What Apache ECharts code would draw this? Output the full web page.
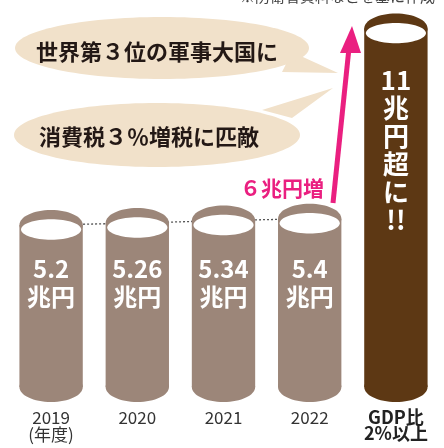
<!DOCTYPE html>
<html><head><meta charset="utf-8">
<script src="https://cdn.jsdelivr.net/npm/echarts@6/dist/echarts.min.js"></script>
<style>html,body{margin:0;padding:0;background:#fff;}#c{width:444px;height:448px;}</style>
</head><body><div id="c"></div>
<script>
var categories = ['2019\n(年度)', '2020', '2021', '2022', 'GDP比\n2%以上'];
var values = [5.2, 5.26, 5.34, 5.4, 11.5];
var unitLabel = '兆円';
var lastLabel = '11\n兆\n円\n超\nに\n!!';
var barColors = ['#9c8679', '#9c8679', '#9c8679', '#9c8679', '#5d3814'];
var trendValues = [5.2, 5.26, 5.34, 5.4, null];

var FONT = '"Noto Sans CJK JP", "Noto Sans", sans-serif';
var chart = echarts.init(document.getElementById('c'));

function renderCylinder(params, api) {
  var idx = api.value(0), v = api.value(1);
  var top = api.coord([idx, v]);
  var base = api.coord([idx, 0]);
  var w = api.size([1, 0])[0] * 0.735;
  var rx = w / 2, ry = 15, cx = top[0];
  var col = barColors[idx];
  var kids = [
    {type: 'ellipse', shape: {cx: cx, cy: base[1], rx: rx, ry: ry}, style: {fill: col}},
    {type: 'rect', shape: {x: cx - rx, y: top[1], width: w, height: base[1] - top[1]}, style: {fill: col}},
    {type: 'ellipse', shape: {cx: cx, cy: top[1], rx: rx, ry: ry}, style: {fill: col}},
    {type: 'ellipse', shape: {cx: cx, cy: top[1] + 4.5, rx: rx - 1.6, ry: 10.2}, style: {fill: '#ffffff'}}
  ];
  if (idx < 4) {
    kids.push({type: 'text', style: {text: String(values[idx]) + '\n' + unitLabel, x: cx, y: base[1] - 132,
      align: 'center', verticalAlign: 'top', fill: '#fff', font: 'bold 24px ' + FONT, lineHeight: 28}});
  } else {
    kids.push({type: 'text', style: {text: lastLabel, x: cx, y: top[1] + 38,
      align: 'center', verticalAlign: 'top', fill: '#fff', font: 'bold 26px ' + FONT, lineHeight: 28}});
  }
  return {type: 'group', children: kids};
}

var option = {
  animation: false,
  grid: {left: 8, right: 5, top: 13, bottom: 61},
  xAxis: {
    type: 'category', data: categories,
    axisLine: {show: false}, axisTick: {show: false},
    axisLabel: {
      interval: 0,
      margin: 22, color: '#333', fontFamily: FONT, fontSize: 17, lineHeight: 17,
      formatter: function (val, i) {
        if (i === 4) return val.split('\n').map(function (s) { return '{b|' + s + '}'; }).join('\n');
        return val;
      },
      rich: {b: {fontWeight: 'bold', fontSize: 18, lineHeight: 16, color: '#222', fontFamily: FONT}}
    }
  },
  yAxis: {type: 'value', min: 0, max: 12, show: false},
  series: [
    {type: 'line', data: trendValues, symbol: 'none', z: 1,
      lineStyle: {color: '#555', width: 1.3, type: [2, 2]}},
    {type: 'custom', z: 2, renderItem: renderCylinder,
      data: values.map(function (v, i) { return [i, v]; })}
  ],
  graphic: [
    {type: 'text', x: 240, y: 4, style: {text: '※防衛省資料などを基に作成', fill: '#444', font: '15px ' + FONT, verticalAlign: 'bottom'}},
    // bubble 1
    {type: 'polygon', shape: {points: [[292, 52], [338, 73], [282, 72]]}, style: {fill: '#f1e1ca'}},
    {type: 'ellipse', shape: {cx: 162, cy: 48, rx: 147, ry: 31}, style: {fill: '#f1e1ca'}},
    {type: 'text', x: 157, y: 52, style: {text: '世界第３位の軍事大国に', align: 'center', verticalAlign: 'middle', fill: '#231815', font: 'bold 22px ' + FONT}},
    // bubble 2
    {type: 'polygon', shape: {points: [[333, 88], [262, 110], [292, 118]]}, style: {fill: '#f1e1ca'}},
    {type: 'ellipse', shape: {cx: 157, cy: 135, rx: 143, ry: 32}, style: {fill: '#f1e1ca'}},
    {type: 'text', x: 149, y: 137, style: {text: '消費税３％増税に匹敵', align: 'center', verticalAlign: 'middle', fill: '#231815', font: 'bold 22px ' + FONT}},
    // arrow
    {type: 'line', shape: {x1: 333, y1: 203, x2: 349, y2: 48}, style: {stroke: '#ea1f80', lineWidth: 5}},
    {type: 'polygon', shape: {points: [[352, 26], [340, 53], [361, 53]]}, style: {fill: '#ea1f80'}},
    {type: 'text', x: 282, y: 188, style: {text: '６兆円増', align: 'center', verticalAlign: 'middle', fill: '#ea1f80', font: 'bold 21px ' + FONT}}
  ]
};
chart.setOption(option);
</script></body></html>
